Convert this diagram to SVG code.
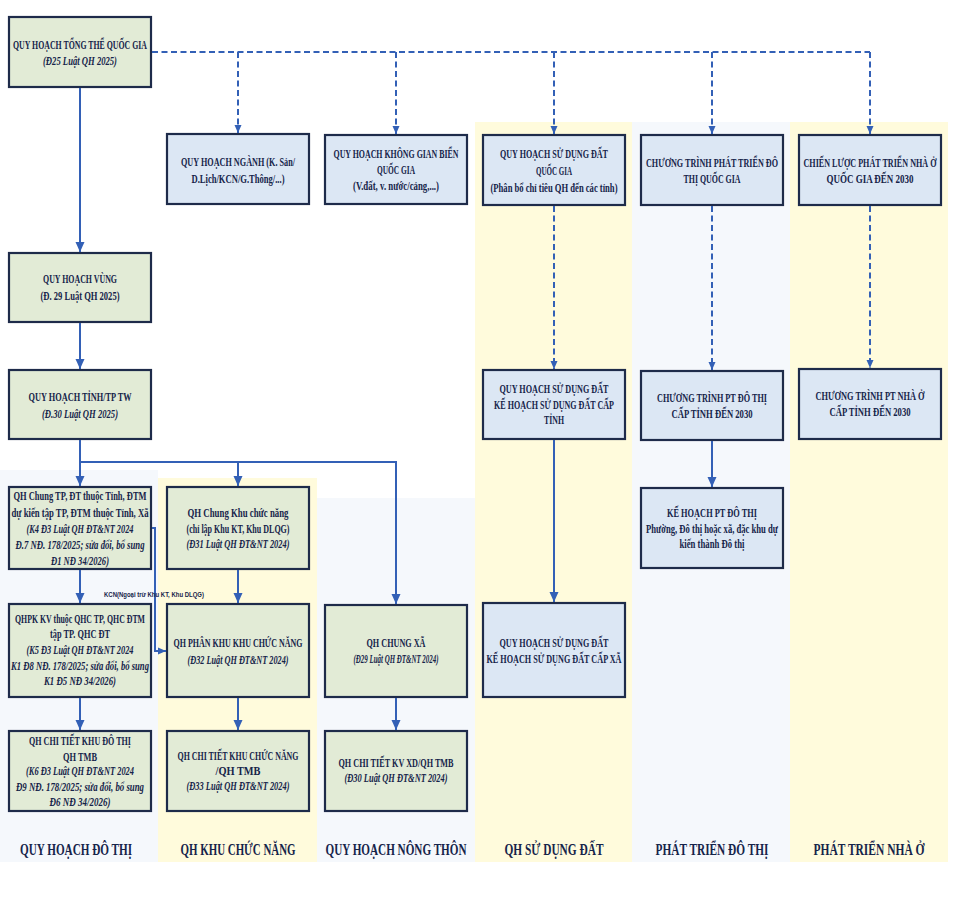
<svg xmlns="http://www.w3.org/2000/svg" width="960" height="900" viewBox="0 0 960 900">
<defs>
<marker id="ah" markerUnits="userSpaceOnUse" markerWidth="10" markerHeight="10" refX="10" refY="5" orient="auto"><path d="M0,0.5 L10,5 L0,9.5 z" fill="#3360b6"/></marker>
<marker id="ahs" markerUnits="userSpaceOnUse" markerWidth="8" markerHeight="8" refX="8" refY="4" orient="auto"><path d="M0,0.5 L8,4 L0,7.5 z" fill="#3360b6"/></marker>
</defs>
<style>
.bg{stroke:none}
.y{fill:#fffbdc}
.lb{fill:#f5f8fc}
.g{fill:#e2ebd6;stroke:#1e2b4a;stroke-width:2.2}
.b{fill:#dce7f4;stroke:#1e2b4a;stroke-width:2.2}
text{font-family:"Liberation Serif","DejaVu Serif",serif;font-weight:bold;font-size:13px;fill:#16244a;text-anchor:middle}
.i{font-style:italic;font-size:12.5px}
.h{font-size:17px}
.k{font-size:7px;font-family:"Liberation Sans",sans-serif}
.c{fill:none;stroke:#3360b6;stroke-width:2}
.d{fill:none;stroke:#3360b6;stroke-width:2;stroke-dasharray:6,3.5}
</style>
<rect width="960" height="900" fill="#ffffff"/>
<g id="columns">
<rect class="bg lb" x="0" y="470" width="158" height="392"/>
<rect class="bg y" x="158" y="478" width="159" height="384"/>
<rect class="bg lb" x="317" y="498" width="158" height="364"/>
<rect class="bg y" x="475" y="122" width="157" height="740"/>
<rect class="bg lb" x="632" y="122" width="158" height="740"/>
<rect class="bg y" x="790" y="122" width="158" height="740"/>
<text class="h" x="76" y="855" textLength="112" lengthAdjust="spacingAndGlyphs">QUY HOẠCH ĐÔ THỊ</text>
<text class="h" x="238" y="855" textLength="115" lengthAdjust="spacingAndGlyphs">QH KHU CHỨC NĂNG</text>
<text class="h" x="396" y="855" textLength="141" lengthAdjust="spacingAndGlyphs">QUY HOẠCH NÔNG THÔN</text>
<text class="h" x="554" y="855" textLength="99" lengthAdjust="spacingAndGlyphs">QH SỬ DỤNG ĐẤT</text>
<text class="h" x="712" y="855" textLength="113" lengthAdjust="spacingAndGlyphs">PHÁT TRIỂN ĐÔ THỊ</text>
<text class="h" x="869" y="855" textLength="111" lengthAdjust="spacingAndGlyphs">PHÁT TRIỂN NHÀ Ở</text>
</g>
<g id="n-tongthe">
<rect class="g" x="9" y="17" width="142" height="70"/>
<text x="80" y="49" textLength="134" lengthAdjust="spacingAndGlyphs">QUY HOẠCH TỔNG THỂ QUỐC GIA</text>
<text class="i" x="80" y="65" textLength="74" lengthAdjust="spacingAndGlyphs">(Đ25 Luật QH 2025)</text>
</g>
<g id="n-nganh">
<rect class="b" x="167" y="134" width="142" height="70"/>
<text x="238" y="166" textLength="114" lengthAdjust="spacingAndGlyphs">QUY HOẠCH NGÀNH (K. Sản/</text>
<text x="238" y="183" textLength="93" lengthAdjust="spacingAndGlyphs">D.Lịch/KCN/G.Thông/...)</text>
</g>
<g id="n-bien">
<rect class="b" x="325" y="135" width="142" height="69"/>
<text x="396" y="158" textLength="125" lengthAdjust="spacingAndGlyphs">QUY HOẠCH KHÔNG GIAN BIỂN</text>
<text x="396" y="174" textLength="38" lengthAdjust="spacingAndGlyphs">QUỐC GIA</text>
<text x="396" y="190" textLength="86" lengthAdjust="spacingAndGlyphs">(V.đất, v. nước/cảng,...)</text>
</g>
<g id="n-sdd-qg">
<rect class="b" x="483" y="135" width="142" height="70"/>
<text x="554" y="158" textLength="108" lengthAdjust="spacingAndGlyphs">QUY HOẠCH SỬ DỤNG ĐẤT</text>
<text x="554" y="175" textLength="36" lengthAdjust="spacingAndGlyphs">QUỐC GIA</text>
<text x="554" y="192" textLength="127" lengthAdjust="spacingAndGlyphs">(Phân bổ chỉ tiêu QH đến các tỉnh)</text>
</g>
<g id="n-ctdt-qg">
<rect class="b" x="641" y="135" width="142" height="70"/>
<text x="712" y="167" textLength="132" lengthAdjust="spacingAndGlyphs">CHƯƠNG TRÌNH PHÁT TRIỂN ĐÔ</text>
<text x="712" y="183" textLength="57" lengthAdjust="spacingAndGlyphs">THỊ QUỐC GIA</text>
</g>
<g id="n-cl-nhao">
<rect class="b" x="799" y="135" width="142" height="70"/>
<text x="870" y="167" textLength="133" lengthAdjust="spacingAndGlyphs">CHIẾN LƯỢC PHÁT TRIỂN NHÀ Ở</text>
<text x="870" y="183" textLength="87" lengthAdjust="spacingAndGlyphs">QUỐC GIA ĐẾN 2030</text>
</g>
<g id="n-vung">
<rect class="g" x="9" y="253" width="142" height="69"/>
<text x="80" y="283" textLength="74" lengthAdjust="spacingAndGlyphs">QUY HOẠCH VÙNG</text>
<text x="80" y="300" textLength="79" lengthAdjust="spacingAndGlyphs">(Đ. 29 Luật QH 2025)</text>
</g>
<g id="n-tinh">
<rect class="g" x="9" y="370" width="142" height="69"/>
<text x="80" y="401" textLength="103" lengthAdjust="spacingAndGlyphs">QUY HOẠCH TỈNH/TP TW</text>
<text class="i" x="80" y="418" textLength="76" lengthAdjust="spacingAndGlyphs">(Đ.30 Luật QH 2025)</text>
</g>
<g id="n-sdd-tinh">
<rect class="b" x="483" y="370" width="142" height="69"/>
<text x="554" y="393" textLength="109" lengthAdjust="spacingAndGlyphs">QUY HOẠCH SỬ DỤNG ĐẤT</text>
<text x="554" y="409" textLength="120" lengthAdjust="spacingAndGlyphs">KẾ HOẠCH SỬ DỤNG ĐẤT CẤP</text>
<text x="554" y="424" textLength="20" lengthAdjust="spacingAndGlyphs">TỈNH</text>
</g>
<g id="n-ctdt-tinh">
<rect class="b" x="641" y="371" width="142" height="69"/>
<text x="712" y="402" textLength="110" lengthAdjust="spacingAndGlyphs">CHƯƠNG TRÌNH PT ĐÔ THỊ</text>
<text x="712" y="418" textLength="81" lengthAdjust="spacingAndGlyphs">CẤP TỈNH ĐẾN 2030</text>
</g>
<g id="n-ctno-tinh">
<rect class="b" x="799" y="369" width="142" height="70"/>
<text x="870" y="400" textLength="109" lengthAdjust="spacingAndGlyphs">CHƯƠNG TRÌNH PT NHÀ Ở</text>
<text x="870" y="416" textLength="81" lengthAdjust="spacingAndGlyphs">CẤP TỈNH ĐẾN 2030</text>
</g>
<g id="n-khpt">
<rect class="b" x="641" y="488" width="142" height="80"/>
<text x="712" y="517" textLength="90" lengthAdjust="spacingAndGlyphs">KẾ HOẠCH PT ĐÔ THỊ</text>
<text x="712" y="533" textLength="132" lengthAdjust="spacingAndGlyphs">Phường, Đô thị hoặc xã, đặc khu dự</text>
<text x="712" y="548" textLength="65" lengthAdjust="spacingAndGlyphs">kiến thành Đô thị</text>
</g>
<g id="n-chung-tp">
<rect class="g" x="9" y="487" width="142" height="82"/>
<text x="80" y="500" textLength="133" lengthAdjust="spacingAndGlyphs">QH Chung TP, ĐT thuộc Tỉnh, ĐTM</text>
<text x="80" y="517" textLength="137" lengthAdjust="spacingAndGlyphs">dự kiến tập TP, ĐTM thuộc Tỉnh, Xã</text>
<text class="i" x="80" y="533" textLength="107" lengthAdjust="spacingAndGlyphs">(K4 Đ3 Luật QH ĐT&amp;NT 2024</text>
<text class="i" x="80" y="549" textLength="129" lengthAdjust="spacingAndGlyphs">Đ.7 NĐ. 178/2025; sửa đổi, bổ sung</text>
<text class="i" x="80" y="565" textLength="58" lengthAdjust="spacingAndGlyphs">Đ1 NĐ 34/2026)</text>
</g>
<g id="n-chung-kcn">
<rect class="g" x="167" y="487" width="142" height="82"/>
<text x="238" y="517" textLength="101" lengthAdjust="spacingAndGlyphs">QH Chung Khu chức năng</text>
<text x="238" y="533" textLength="103" lengthAdjust="spacingAndGlyphs">(chỉ lập Khu KT, Khu DLQG)</text>
<text class="i" x="238" y="548" textLength="103" lengthAdjust="spacingAndGlyphs">(Đ31 Luật QH ĐT&amp;NT 2024)</text>
</g>
<g id="n-qhpk">
<rect class="g" x="9" y="604" width="142" height="93"/>
<text x="80" y="623" textLength="130" lengthAdjust="spacingAndGlyphs">QHPK KV thuộc QHC TP, QHC ĐTM</text>
<text x="80" y="638" textLength="60" lengthAdjust="spacingAndGlyphs">tập TP. QHC ĐT</text>
<text class="i" x="80" y="654" textLength="107" lengthAdjust="spacingAndGlyphs">(K5 Đ3 Luật QH ĐT&amp;NT 2024</text>
<text class="i" x="80" y="670" textLength="138" lengthAdjust="spacingAndGlyphs">K1 Đ8 NĐ. 178/2025; sửa đổi, bổ sung</text>
<text class="i" x="80" y="685" textLength="72" lengthAdjust="spacingAndGlyphs">K1 Đ5 NĐ 34/2026)</text>
</g>
<g id="n-phankhu-kcn">
<rect class="g" x="167" y="604" width="142" height="93"/>
<text x="238" y="647" textLength="129" lengthAdjust="spacingAndGlyphs">QH PHÂN KHU KHU CHỨC NĂNG</text>
<text class="i" x="238" y="664" textLength="101" lengthAdjust="spacingAndGlyphs">(Đ32 Luật QH ĐT&amp;NT 2024)</text>
</g>
<g id="n-chung-xa">
<rect class="g" x="325" y="605" width="142" height="92"/>
<text x="396" y="647" textLength="59" lengthAdjust="spacingAndGlyphs">QH CHUNG XÃ</text>
<text class="i" x="396" y="663" textLength="85" lengthAdjust="spacingAndGlyphs">(Đ29 Luật QH ĐT&amp;NT 2024)</text>
</g>
<g id="n-sdd-xa">
<rect class="b" x="483" y="603" width="142" height="94"/>
<text x="554" y="647" textLength="109" lengthAdjust="spacingAndGlyphs">QUY HOẠCH SỬ DỤNG ĐẤT</text>
<text x="554" y="663" textLength="135" lengthAdjust="spacingAndGlyphs">KẾ HOẠCH SỬ DỤNG ĐẤT CẤP XÃ</text>
</g>
<g id="n-ct-kdt">
<rect class="g" x="9" y="731" width="142" height="80"/>
<text x="80" y="745" textLength="102" lengthAdjust="spacingAndGlyphs">QH CHI TIẾT KHU ĐÔ THỊ</text>
<text x="80" y="761" textLength="34" lengthAdjust="spacingAndGlyphs">QH TMB</text>
<text class="i" x="80" y="775" textLength="108" lengthAdjust="spacingAndGlyphs">(K6 Đ3 Luật QH ĐT&amp;NT 2024</text>
<text class="i" x="80" y="791" textLength="128" lengthAdjust="spacingAndGlyphs">Đ9 NĐ. 178/2025; sửa đổi, bổ sung</text>
<text class="i" x="80" y="806" textLength="61" lengthAdjust="spacingAndGlyphs">Đ6 NĐ 34/2026)</text>
</g>
<g id="n-ct-kcn">
<rect class="g" x="167" y="731" width="142" height="80"/>
<text x="238" y="760" textLength="121" lengthAdjust="spacingAndGlyphs">QH CHI TIẾT KHU CHỨC NĂNG</text>
<text x="238" y="775" textLength="45" lengthAdjust="spacingAndGlyphs">/QH TMB</text>
<text class="i" x="238" y="790" textLength="103" lengthAdjust="spacingAndGlyphs">(Đ33 Luật QH ĐT&amp;NT 2024)</text>
</g>
<g id="n-ct-kvxd">
<rect class="g" x="325" y="731" width="142" height="80"/>
<text x="396" y="767" textLength="115" lengthAdjust="spacingAndGlyphs">QH CHI TIẾT KV XD/QH TMB</text>
<text class="i" x="396" y="782" textLength="103" lengthAdjust="spacingAndGlyphs">(Đ30 Luật QH ĐT&amp;NT 2024)</text>
</g>
<g id="connectors">
<path class="d" d="M152,52 H870"/>
<path class="d" d="M238,52 V133" marker-end="url(#ahs)"/>
<path class="d" d="M396,52 V134" marker-end="url(#ahs)"/>
<path class="d" d="M554,52 V134" marker-end="url(#ahs)"/>
<path class="d" d="M712,52 V134" marker-end="url(#ahs)"/>
<path class="d" d="M870,52 V134" marker-end="url(#ahs)"/>
<path class="d" d="M554,206 V369" marker-end="url(#ahs)"/>
<path class="d" d="M712,206 V370" marker-end="url(#ahs)"/>
<path class="d" d="M870,206 V368" marker-end="url(#ahs)"/>
<path class="c" d="M80,88 V252" marker-end="url(#ah)"/>
<path class="c" d="M80,323 V369" marker-end="url(#ah)"/>
<path class="c" d="M80,440 V486" marker-end="url(#ah)"/>
<path class="c" d="M80,462 H396 V604" marker-end="url(#ah)"/>
<path class="c" d="M238,462 V486" marker-end="url(#ah)"/>
<path class="c" d="M80,570 V603" marker-end="url(#ah)"/>
<path class="c" d="M238,570 V603" marker-end="url(#ah)"/>
<path class="c" d="M80,698 V730" marker-end="url(#ah)"/>
<path class="c" d="M238,698 V730" marker-end="url(#ah)"/>
<path class="c" d="M396,698 V730" marker-end="url(#ah)"/>
<path class="c" d="M554,440 V602" marker-end="url(#ah)"/>
<path class="c" d="M712,441 V487" marker-end="url(#ah)"/>
<path class="c" d="M152,528 H155 V651 H166" marker-end="url(#ahs)"/>
<text class="k" x="154" y="597" textLength="100" lengthAdjust="spacingAndGlyphs">KCN(Ngoại trừ Khu KT, Khu DLQG)</text>
</g>
</svg>
